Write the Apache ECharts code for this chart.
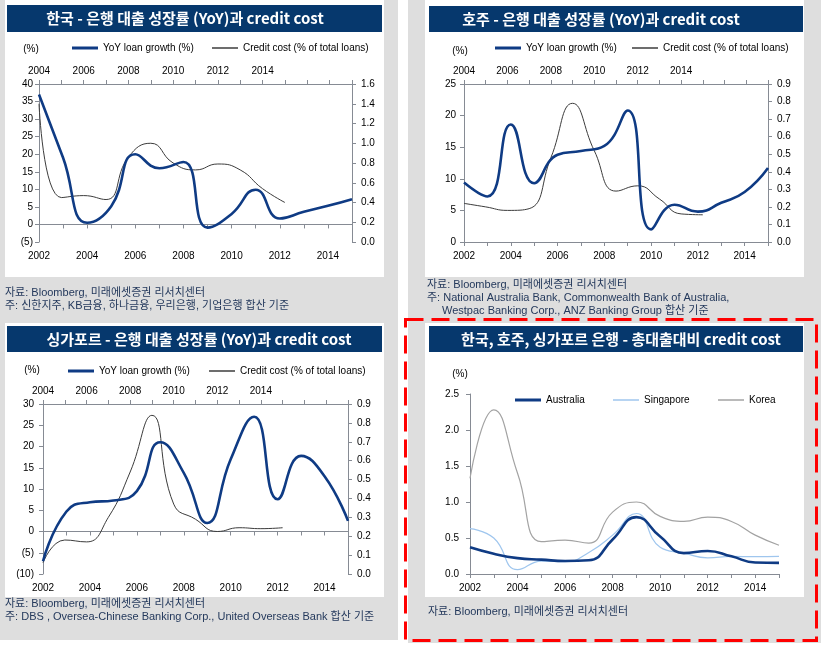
<!DOCTYPE html>
<html><head><meta charset="utf-8">
<script src="https://cdn.jsdelivr.net/npm/echarts@6/dist/echarts.min.js"></script>
<style>html,body{margin:0;padding:0;background:#fff}#c{width:821px;height:647px}</style>
</head><body><div id="c"></div>
<script>
// ---- data ----
const years = [2002,2003,2004,2005,2006,2007,2008,2009,2010,2011,2012,2013,2014,2015];
const creditYears = [2004,2005,2006,2007,2008,2009,2010,2011,2012,2013,2014,2015];
const bottomTickLabels = ['2002','2004','2006','2008','2010','2012','2014'];
const topTickLabels = ['2004','2006','2008','2010','2012','2014'];

// YoY loan growth (%), 2002-2015
const krLoanGrowth = [37, 19, 0.5, 5.2, 20, 16, 17.8, -0.9, 3.0, 9.9, 1.7, 3.6, 5.3, 7.2];
const auLoanGrowth = [9.4, 7.2, 18.6, 9.3, 13.8, 14.4, 15.2, 20.8, 2.0, 5.9, 4.8, 6.2, 7.9, 11.7];
const sgLoanGrowth = [-7, 4.7, 6.9, 7.3, 9.5, 21, 13.8, 2.0, 17, 27, 7.6, 17.8, 13, 2.5];

// Credit cost (% of total loans), 2002-2015
const auCreditCost = [0.37, 0.28, 0.22, 0.20, 0.18, 0.19, 0.48, 0.79, 0.52, 0.29, 0.32, 0.245, 0.16, 0.155];
const sgCreditCost = [0.63, 0.50, 0.06, 0.18, 0.17, 0.30, 0.54, 0.84, 0.37, 0.29, 0.225, 0.245, 0.24, 0.245];
const krCreditCost = [1.33, 2.28, 1.40, 0.45, 0.47, 0.43, 0.86, 1.00, 0.80, 0.73, 0.79, 0.73, 0.54, 0.40];

const NAME_LOAN = 'YoY loan growth (%)';
const NAME_CC = 'Credit cost (% of total loans)';

// ---- styles ----
const FONT = 'Liberation Sans';
const AXIS = '#868b94';
const BLUE = '#0f3b84';
const NAVY = '#06386d';
const THIN = '#3c3c3c';
const GRAY_BG = '#dedede';
const NOTE = '#24395c';

const pairs = (xs, ys) => xs.map((x, i) => [x, ys[i]]);
const lbl = (m, fmt) => ({margin: m, fontFamily: FONT, fontSize: 10, color: '#000', formatter: fmt});
const bottomFmt = v => bottomTickLabels.includes(String(v)) ? String(v) : '';
const topFmt = v => topTickLabels.includes(String(v)) ? String(v) : '';
const parenFmt = v => v < 0 ? '(' + (-v) + ')' : String(v);
const fix1 = v => v.toFixed(1);

function yAx(g, pos, min, max, interval, fmt, m) {
  return {type: 'value', gridIndex: g, position: pos, min, max, interval,
    splitLine: {show: false},
    axisLine: {show: true, onZero: false, lineStyle: {color: AXIS}},
    axisTick: {show: true, length: 4, lineStyle: {color: AXIS}},
    axisLabel: lbl(m, fmt)};
}
function xLabels(g, m) {
  return {type: 'value', gridIndex: g, position: 'bottom', min: 2002, max: 2015, interval: 1,
    splitLine: {show: false}, axisLine: {show: false, onZero: false}, axisTick: {show: false},
    axisLabel: lbl(m, bottomFmt)};
}
function xZero(g, yIdx) {
  return {type: 'value', gridIndex: g, position: 'bottom', min: 2002, max: 2015, interval: 1,
    splitLine: {show: false},
    axisLine: {show: true, onZero: true, onZeroAxisIndex: yIdx, lineStyle: {color: AXIS}},
    axisTick: {show: true, length: 4, lineStyle: {color: AXIS}},
    axisLabel: {show: false}};
}
function xBottom(g, m) {
  return {type: 'value', gridIndex: g, position: 'bottom', min: 2002, max: 2015, interval: 1,
    splitLine: {show: false},
    axisLine: {show: true, onZero: false, lineStyle: {color: AXIS}},
    axisTick: {show: true, length: 4, lineStyle: {color: AXIS}},
    axisLabel: lbl(m, bottomFmt)};
}
function xTop(g, m) {
  return {type: 'value', gridIndex: g, position: 'top', min: 2004, max: 2018, interval: 1,
    splitLine: {show: false},
    axisLine: {show: true, onZero: false, lineStyle: {color: AXIS}},
    axisTick: {show: true, length: 4, lineStyle: {color: AXIS}},
    axisLabel: lbl(m, topFmt)};
}
function line(name, xi, yi, xs, ys, color, width) {
  return {type: 'line', name, xAxisIndex: xi, yAxisIndex: yi, data: pairs(xs, ys),
    smooth: true, symbol: 'none', showSymbol: false, silent: true,
    lineStyle: {color, width}, itemStyle: {color}};
}
function leg(name, left, cy, h) {
  return {data: [name], left, top: cy - 6, padding: 0, itemWidth: 26, itemHeight: h,
    icon: 'rect', selectedMode: false,
    textStyle: {fontFamily: FONT, fontSize: 10, color: '#000', lineHeight: 12}};
}
const txt = (x, y, text, o) => Object.assign({type: 'text', x, y, z: 10,
  style: Object.assign({text, fill: NOTE, font: "11px 'Liberation Sans', 'Noto Sans CJK KR'", verticalAlign: 'middle'}, o || {})});
const rect = (x, y, w, h, fill, z) => ({type: 'rect', z: z, shape: {x, y, width: w, height: h}, style: {fill}});
const title = (cx, cy, text) => ({type: 'text', x: cx, y: cy, z: 10,
  style: {text, fill: '#fff', font: "bold 15px 'Noto Sans CJK KR'", align: 'center', verticalAlign: 'middle'}});
const pct = (x, y) => txt(x, y, '(%)', {fill: '#000', font: "10px 'Liberation Sans'", align: 'center'});

const credit = arr => arr.slice(2);

const option = {
  animation: false,
  backgroundColor: '#ffffff',
  grid: [
    {left: 39, top: 84, width: 313, height: 158},
    {left: 464, top: 84, width: 304, height: 158},
    {left: 43, top: 404, width: 305, height: 170},
    {left: 470, top: 394, width: 309, height: 180}
  ],
  xAxis: [
    xLabels(0, 9), xZero(0, 0), xTop(0, 8),
    xBottom(1, 9), xTop(1, 8),
    xLabels(2, 9), xZero(2, 4), xTop(2, 8),
    xBottom(3, 9)
  ],
  yAxis: [
    yAx(0, 'left', -5, 40, 5, parenFmt, 6),
    yAx(0, 'right', 0, 1.6, 0.2, fix1, 9),
    yAx(1, 'left', 0, 25, 5, parenFmt, 8),
    yAx(1, 'right', 0, 0.9, 0.1, fix1, 9),
    yAx(2, 'left', -10, 30, 5, parenFmt, 9),
    yAx(2, 'right', 0, 0.9, 0.1, fix1, 9),
    yAx(3, 'left', 0, 2.5, 0.5, fix1, 11)
  ],
  legend: [
    leg(NAME_LOAN, 72, 48, 3), leg(NAME_CC, 212, 48, 1.5),
    leg(NAME_LOAN, 495, 48, 3), leg(NAME_CC, 632, 48, 1.5),
    leg(NAME_LOAN, 68, 371, 3), leg(NAME_CC, 209, 371, 1.5),
    leg('Australia', 515, 400, 3), leg('Singapore', 613, 400, 1.5), leg('Korea', 718, 400, 1.5)
  ],
  series: [
    line(NAME_CC, 2, 1, creditYears, credit(krCreditCost), THIN, 1),
    line(NAME_LOAN, 0, 0, years, krLoanGrowth, BLUE, 2.6),
    line(NAME_CC, 4, 3, creditYears, credit(auCreditCost), THIN, 1),
    line(NAME_LOAN, 3, 2, years, auLoanGrowth, BLUE, 2.6),
    line(NAME_CC, 7, 5, creditYears, credit(sgCreditCost), THIN, 1),
    line(NAME_LOAN, 5, 4, years, sgLoanGrowth, BLUE, 2.6),
    line('Korea', 8, 6, years, krCreditCost, '#a3a3a3', 1.2),
    line('Singapore', 8, 6, years, sgCreditCost, '#9fc6ee', 1.2),
    line('Australia', 8, 6, years, auCreditCost, BLUE, 2.6)
  ],
  graphic: {elements: [
    rect(0, 0, 398, 640, GRAY_BG, -20),
    rect(408, 0, 413, 643, GRAY_BG, -20),
    rect(5, 0, 379, 277, '#fff', -19),
    rect(425, 0, 379, 277, '#fff', -19),
    rect(5, 323, 379, 274, '#fff', -19),
    rect(425, 323, 379, 274, '#fff', -19),
    rect(7, 5, 375, 27, NAVY, 5),
    rect(429, 6, 374, 26, NAVY, 5),
    rect(7, 326, 375, 26, NAVY, 5),
    rect(429, 326, 374, 26, NAVY, 5),
    title(185, 18.5, '한국 - 은행 대출 성장률 (YoY)과 credit cost'),
    title(601, 19, '호주 - 은행 대출 성장률 (YoY)과 credit cost'),
    title(199, 339, '싱가포르 - 은행 대출 성장률 (YoY)과 credit cost'),
    title(621, 339, '한국, 호주, 싱가포르 은행 - 총대출대비 credit cost'),
    pct(31, 49), pct(460, 51), pct(32, 370), pct(460, 374),
    txt(5, 293, '자료: Bloomberg, 미래에셋증권 리서치센터'),
    txt(5, 306, '주: 신한지주, KB금융, 하나금융, 우리은행, 기업은행 합산 기준'),
    txt(427, 285, '자료: Bloomberg, 미래에셋증권 리서치센터'),
    txt(427, 298, '주: National Australia Bank, Commonwealth Bank of Australia,'),
    txt(442, 311, 'Westpac Banking Corp., ANZ Banking Group 합산 기준'),
    txt(5, 604, '자료: Bloomberg, 미래에셋증권 리서치센터'),
    txt(5, 617, '주: DBS , Oversea-Chinese Banking Corp., United Overseas Bank 합산 기준'),
    txt(428, 612, '자료: Bloomberg, 미래에셋증권 리서치센터'),
    {type: 'rect', z: 20, shape: {x: 405.5, y: 319.5, width: 411, height: 321},
      style: {fill: 'none', stroke: '#ff0000', lineWidth: 3, lineDash: [18, 8]}}
  ]}
};
const chart = echarts.init(document.getElementById('c'), null, {renderer: 'canvas'});
chart.setOption(option);
</script></body></html>
